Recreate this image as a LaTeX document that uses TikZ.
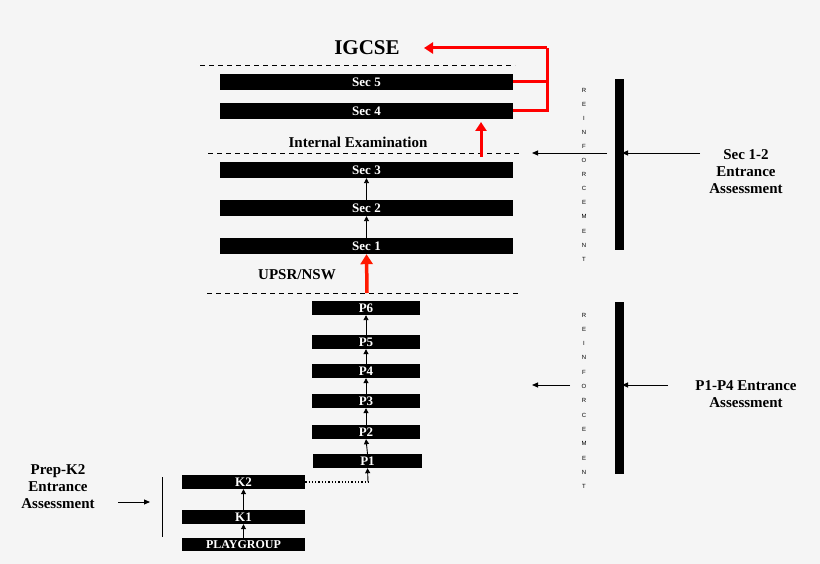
\documentclass[tikz,border=0pt]{standalone}
\usepackage{fontspec}
\setmainfont{Liberation Serif}
\newfontfamily\sansf{Liberation Sans}
\usetikzlibrary{arrows.meta}
\begin{document}
\begin{tikzpicture}[x=1pt,y=-1pt,
 bar/.style={fill=black,text=white,font=\bfseries\fontsize{13}{13}\selectfont,inner sep=0pt,anchor=center},
 lbl/.style={font=\bfseries\fontsize{15}{17}\selectfont,align=center},
 dashl/.style={line width=0.9pt,dash pattern=on 5pt off 4pt},
 up/.style={-{Triangle[length=5pt,width=5pt]},line width=0.9pt},
 redl/.style={draw=red,line width=3pt},
 ptr/.style={-{Triangle[length=6pt,width=5pt]},line width=0.9pt}]
\fill[white!96!black] (0,0) rectangle (820,564);
\useasboundingbox (0,0) rectangle (820,564);
% dashed
\draw[dashl] (200,65) -- (515,65);
\draw[dashl] (208,153) -- (522,153);
\draw[dashl] (207,293) -- (520,293);
% sec bars
\foreach \n/\y in {5/82,4/111,3/170,2/208,1/246}
  \node[bar,minimum width=293pt,minimum height=16pt] (s\n) at (366.5,\y) {Sec \n};
\foreach \n/\y in {6/308,5/342,4/371,3/401,2/432}
  \node[bar,minimum width=108pt,minimum height=14pt] (p\n) at (366,\y) {P\n};
\node[bar,minimum width=109pt,minimum height=14pt] (p1) at (367.5,461) {P1};
\node[bar,minimum width=123pt,minimum height=14pt] (k2) at (243.5,482) {K2};
\node[bar,minimum width=123pt,minimum height=14pt] (k1) at (243.5,517) {K1};
\node[bar,minimum width=123pt,minimum height=13pt,font=\bfseries\fontsize{12}{12}\selectfont] (pg) at (243.5,544.5) {PLAYGROUP};
% small arrows
\draw[up] (s1.north) -- (s2.south);
\draw[up] (s2.north) -- (s3.south);
\draw[up] (p1.north) -- (p2.south);
\draw[up] (p2.north) -- (p3.south);
\draw[up] (p3.north) -- (p4.south);
\draw[up] (p4.north) -- (p5.south);
\draw[up] (p5.north) -- (p6.south);
\draw[up] (pg.north) -- (k1.south);
\draw[up] (k1.north) -- (k2.south);
\coordinate (kp) at (368,482);
\draw[dotted,line width=1.3pt] (k2.east) -- (kp);
\draw[up] (kp) -- (p1.south);
% red
\node[font=\bfseries\fontsize{21}{21}\selectfont] (ig) at (367,48) {IGCSE};
\coordinate (rc) at (547,48);
\coordinate (igt) at (424,48);
\draw[redl] (s5.east) -- (547,82);
\draw[redl] (s4.east) -- (547,111) -- (rc);
\draw[redl,-{Triangle[length=9pt,width=11pt]}] (rc) -- (igt);
\coordinate (ie) at (481,157);
\coordinate (ie2) at (481,122);
\draw[redl,-{Triangle[length=9pt,width=11pt]}] (ie) -- (ie2);
\coordinate (up1) at (367,293);
\draw[draw=red!80!orange,line width=3.5pt,-{Triangle[length=10pt,width=12pt]}] (up1) -- (s1.south);
\node[font=\bfseries\fontsize{15}{15}\selectfont] (iet) at (358,142) {Internal Examination};
\node[font=\bfseries\fontsize{15}{15}\selectfont] (ups) at (297,275) {UPSR/NSW};
% reinforcement
\foreach \i [count=\k from 0] in {R,E,I,N,F,O,R,C,E,M,E,N,T}{
  \node[font=\sansf\fontsize{6}{6}\selectfont] at (584,90+\k*14.1) {\i};
  \node[font=\sansf\fontsize{6}{6}\selectfont] at (584,315+\k*14.3) {\i};
}
\fill (615,79) rectangle (624,250);
\fill (615,302) rectangle (624,474);
\coordinate (a1) at (607,153); \coordinate (a2) at (532,153);
\coordinate (b1) at (700,153); \coordinate (b2) at (622,153);
\draw[ptr] (a1) -- (a2); \draw[ptr] (b1) -- (b2);
\coordinate (c1) at (570,385); \coordinate (c2) at (532,385);
\coordinate (d1) at (668,385); \coordinate (d2) at (622,385);
\draw[ptr] (c1) -- (c2); \draw[ptr] (d1) -- (d2);
\node[lbl] (t1) at (746,172) {Sec 1-2\\Entrance\\Assessment};
\node[lbl] (t2) at (746,394) {P1-P4 Entrance\\Assessment};
\node[lbl] (t3) at (58,487) {Prep-K2\\Entrance\\Assessment};
\coordinate (e1) at (118,502); \coordinate (e2) at (150,502);
\draw[ptr] (e1) -- (e2);
\draw[line width=0.9pt] (162,477) -- (162,537);
\end{tikzpicture}
\end{document}
